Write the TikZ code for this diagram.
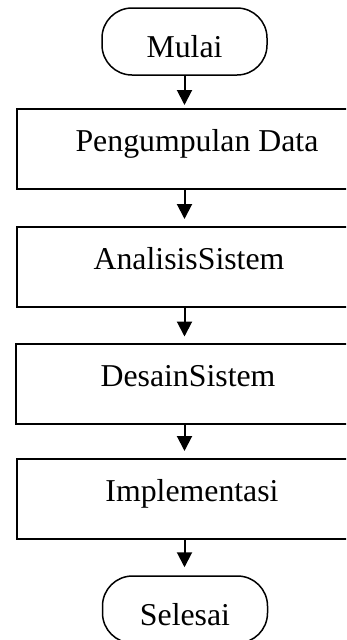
\documentclass[tikz,border=0pt]{standalone}
\usepackage{fontspec}
\setmainfont{Liberation Serif}
\usetikzlibrary{arrows.meta}
\begin{document}
\begin{tikzpicture}[x=1pt,y=-1pt,
  every node/.style={font=\fontsize{31.8}{36}\selectfont, inner sep=0pt},
  term/.style={draw, line width=1.5pt, rounded corners=30pt, minimum width=165pt, minimum height=67pt, text height=31pt, text depth=0pt},
  procbox/.style={draw, line width=2pt, minimum width=344pt, minimum height=80pt, text height=22pt, text depth=17pt},
  arr/.style={line width=2pt, -{Triangle[length=15pt,width=15pt]}}
]
\clip (0,0) rectangle (346,640);
\fill[white] (0,0) rectangle (346,640);
\node[term] (t1) at (184.5,41.5) {Mulai};
\node[procbox] (b1) at (189,149) {\hspace*{16pt}Pengumpulan Data};
\node[procbox] (b2) at (189,267) {AnalisisSistem};
\node[procbox] (b3) at (188,383.5) {DesainSistem};
\node[procbox] (b4) at (189,499) {\hspace*{6pt}Implementasi};
\node[term] (t2) at (185,609.5) {Selesai};
\draw[arr, shorten >=3pt] (t1.south) -- (t1.south |- b1.north);
\draw[arr, shorten >=7pt] (b1.south -| t1) -- (b2.north -| t1);
\draw[arr, shorten >=6pt] (b2.south -| t1) -- (b3.north -| t1);
\draw[arr, shorten >=7pt] (b3.south -| t1) -- (b4.north -| t1);
\draw[arr, shorten >=8pt] (b4.south -| t1) -- (t2.north -| t1);
\end{tikzpicture}
\end{document}
